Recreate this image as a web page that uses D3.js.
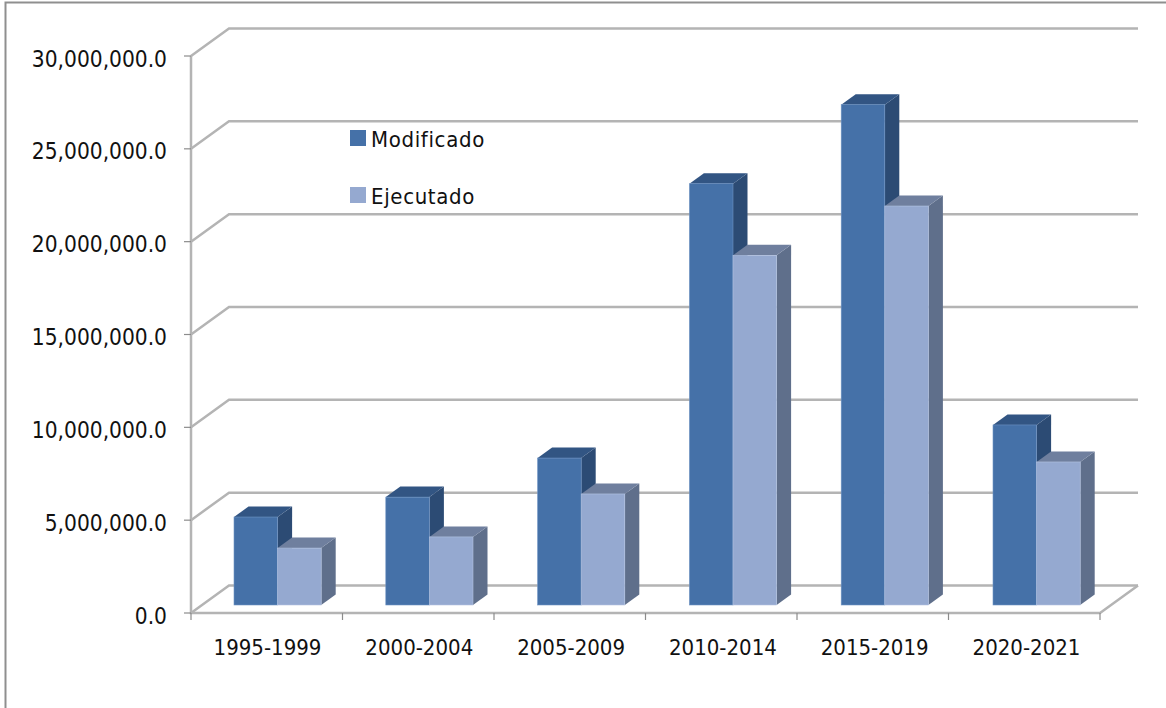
<!DOCTYPE html>
<html><head><meta charset="utf-8">
<style>html,body{margin:0;padding:0;background:#fff}svg{display:block}text{font-family:"DejaVu Sans Condensed","DejaVu Sans",sans-serif;font-stretch:condensed;fill:#111}</style>
<script src="https://cdnjs.cloudflare.com/ajax/libs/d3/7.8.5/d3.min.js"></script>
</head><body><svg id="c" width="1166" height="708"></svg>
<script>
const categories=["1995-1999","2000-2004","2005-2009","2010-2014","2015-2019","2020-2021"];
const modificado=[4730000,5800000,7900000,22650000,26900000,9680000];
const ejecutado=[3060000,3660000,5970000,18800000,21450000,7690000];
const yTicks=[0,5000000,10000000,15000000,20000000,25000000,30000000];
const seriesNames=["Modificado","Ejecutado"];
const palette=[{front:"#4571a8",top:"#325583",side:"#2c4b74",edge:"#6f94c4"},
               {front:"#95a9d0",top:"#6f7f9e",side:"#5f6f8b",edge:"#b4c4e2"}];
const svg=d3.select("#c");
const L=191,R=1100,Y0=613,Y30=56,DX=38,DY=-27.5;
const x=d3.scaleBand().domain(categories).range([L,R]);
const xBars=d3.scaleBand().domain(categories).range([234,1144.8]);
const y=d3.scaleLinear().domain([0,30000000]).range([Y0,Y30]);
const grid="#b4b4b4";
svg.append("path").attr("d","M5.5,708V2.5H1166").attr("fill","none").attr("stroke","#8f8f8f").attr("stroke-width",2);
const g=svg.append("g").attr("fill","none").attr("stroke",grid).attr("stroke-width",2.5);
yTicks.forEach(t=>{
  g.append("path").attr("d",`M${L},${y(t)}L${L+DX},${y(t)+DY}H${R+DX}`);
});
g.append("path").attr("d",`M${L},${Y30}V${Y0}H${R}L${R+DX},${Y0+DY}`);
const ticks=svg.append("g").attr("stroke","#8c8c8c").attr("stroke-width",1.2);
yTicks.forEach(t=>ticks.append("line").attr("x1",L-7).attr("x2",L).attr("y1",y(t)).attr("y2",y(t)));
[...categories.map(c=>x(c)),R].forEach(v=>ticks.append("line").attr("x1",v).attr("x2",v).attr("y1",Y0).attr("y2",Y0+7));
svg.append("g").selectAll("text").data(yTicks).join("text").attr("x",167).attr("y",d=>y(d)+10.5)
  .attr("text-anchor","end").attr("font-size",22.5).text(d=>d3.format(",.1f")(d));
svg.append("g").selectAll("text").data(categories).join("text").attr("x",d=>xBars(d)+33.5).attr("y",655)
  .attr("text-anchor","middle").attr("font-size",22).text(d=>d);
const barW=43.6,bdx=14.5,bdy=-10.5,by0=8;
const yb=d3.scaleLinear().domain([0,30000000]).range([Y0-by0,Y30-by0-1]);
[modificado,ejecutado].forEach((vals,s)=>{
  const gs=svg.append("g");
  vals.forEach((v,i)=>{
    const xl=xBars(categories[i])+s*barW,xr=xl+barW,t=yb(v),b=yb(0),c=palette[s];
    gs.append("path").attr("d",`M${xr},${t}l${bdx},${bdy}V${b+bdy}L${xr},${b}Z`).attr("fill",c.side);
    gs.append("path").attr("d",`M${xl},${t}l${bdx},${bdy}H${xr+bdx}L${xr},${t}Z`).attr("fill",c.top);
    gs.append("rect").attr("x",xl).attr("y",t).attr("width",barW).attr("height",b-t).attr("fill",c.front)
      .attr("stroke",c.edge).attr("stroke-width",0.6);
  });
});
const lg=svg.append("g");
seriesNames.forEach((n,i)=>{
  const yy=[130,187][i];
  lg.append("rect").attr("x",350).attr("y",yy).attr("width",16).attr("height",16).attr("fill",palette[i].front);
  lg.append("text").attr("x",371).attr("y",yy+17).attr("font-size",22).attr("letter-spacing",0.65).text(n);
});
</script></body></html>
